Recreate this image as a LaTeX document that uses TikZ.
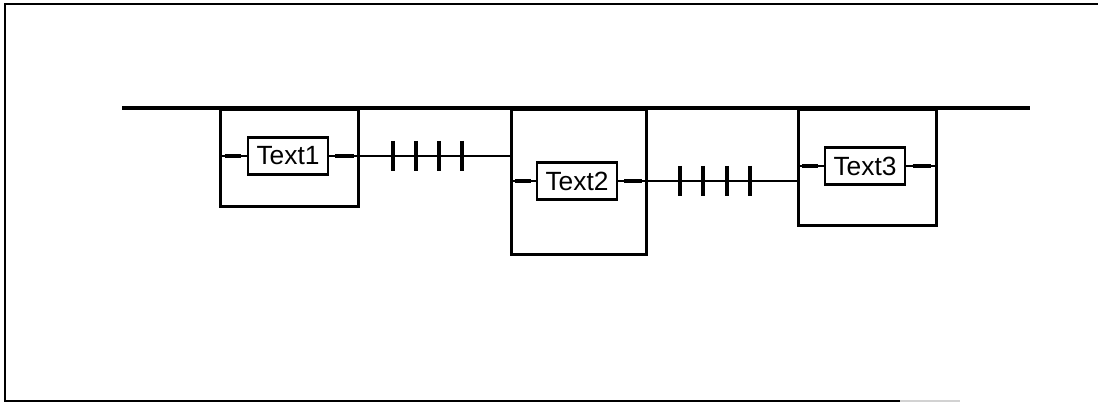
\documentclass[tikz,border=0pt]{standalone}
\usepackage{fontspec}
\setmainfont{Liberation Sans}
\usetikzlibrary{calc}

\tikzset{
  frameline/.style={line width=1.1pt},
  busline/.style={line width=2pt},
  unitbox/.style={draw, line width=1.5pt, anchor=north west, inner sep=0pt},
  textbox/.style={draw, line width=1.5pt, minimum width=1.6cm, minimum height=0.74cm,
    inner sep=0pt, font=\fontsize{15}{17}\selectfont},
  link/.style={line width=1.4pt},
  stubline/.style={line width=2.6pt},
  tickmark/.style={line width=2pt}
}

\begin{document}
\begin{tikzpicture}[x=0.02cm, y=-0.02cm]
  \useasboundingbox (0,0) rectangle (1098,404);

  % Frame
  \draw[frameline] (1098,4) -- (5,4) -- (5,401) -- (900,401);
  \draw[frameline, gray!35] (900,401) -- (960,401);

  % Bus
  \coordinate (busL) at (122,108);
  \coordinate (busR) at (1030,108);
  \draw[busline] (busL) -- (busR);

  % Units hanging from the bus
  \node[unitbox, minimum width=2.76cm, minimum height=1.94cm] (box1) at (219,108) {};
  \node[unitbox, minimum width=2.70cm, minimum height=2.90cm] (box2) at (510,108) {};
  \node[unitbox, minimum width=2.76cm, minimum height=2.32cm] (box3) at (797,108) {};

  % Texts
  \node[textbox] (t1) at (288,156) {Text1};
  \node[textbox] (t2) at (577,181) {Text2};
  \node[textbox] (t3) at (865,166) {Text3};

  % Stubs inside the units
  \foreach \b/\t in {box1/t1, box2/t2, box3/t3} {
    \draw[link] (\b.west |- \t.west) -- (\t.west);
    \draw[link] (\t.east) -- (\b.east |- \t.east);
    \draw[stubline] ($(\b.west |- \t.west)!0.2!(\t.west)$) -- ($(\b.west |- \t.west)!0.8!(\t.west)$);
    \draw[stubline] ($(\t.east)!0.2!(\b.east |- \t.east)$) -- ($(\t.east)!0.8!(\b.east |- \t.east)$);
  }

  % Links between units
  \draw[link] (box1.east |- t1.east) -- (box2.west |- t1.east);
  \draw[link] (box2.east |- t2.east) -- (box3.west |- t2.east);

  % Ticks
  \foreach \x in {393,416,439,462}
    \draw[tickmark] (\x,141) -- (\x,171);
  \foreach \x in {680,703,727,750}
    \draw[tickmark] (\x,166) -- (\x,196);

\end{tikzpicture}
\end{document}
